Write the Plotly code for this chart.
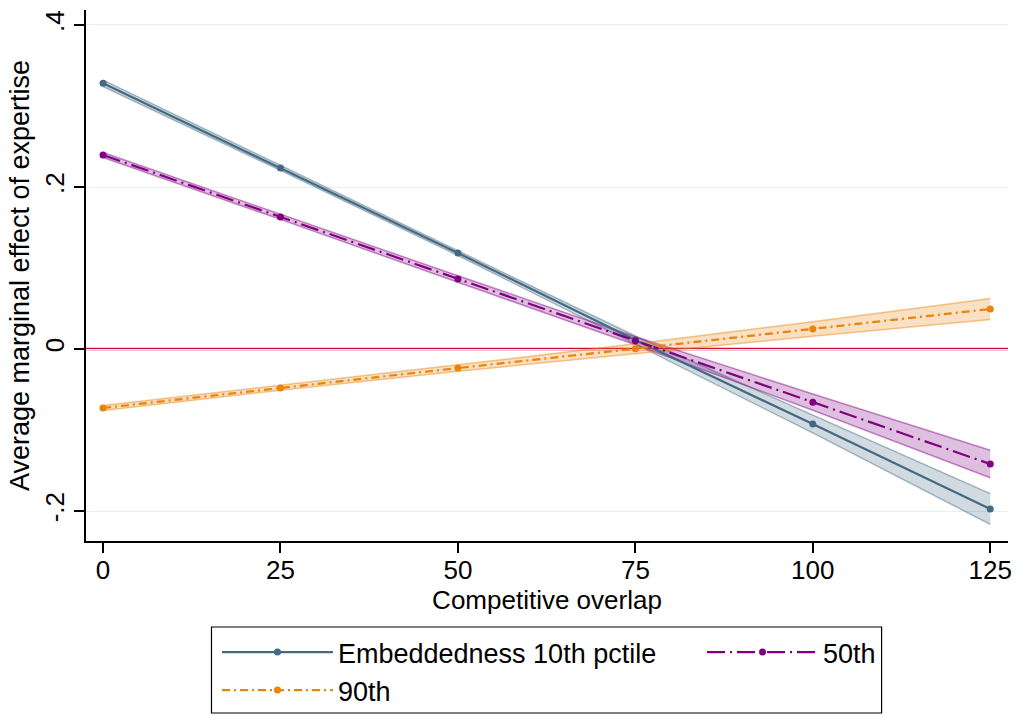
import plotly.graph_objects as go

overlap = [0, 25, 50, 75, 100, 125]

p10_mean = [0.328, 0.2235, 0.1185, 0.011, -0.0926, -0.1975]
p10_half = [0.004, 0.003, 0.003, 0.005, 0.011, 0.019]

p50_mean = [0.2395, 0.163, 0.0864, 0.0102, -0.0656, -0.142]
p50_half = [0.003, 0.003, 0.004, 0.005, 0.010, 0.017]

p90_mean = [-0.0728, -0.048, -0.0235, 0.0004, 0.0247, 0.0494]
p90_half = [0.003, 0.003, 0.004, 0.006, 0.009, 0.013]

names = ["Embeddedness 10th pctile", "50th", "90th"]
means = [p10_mean, p50_mean, p90_mean]
halves = [p10_half, p50_half, p90_half]
legend_ids = ["legend", "legend2", "legend3"]
colors = ["#436a82", "#800080", "#e8830c"]
fills = ["rgba(67,106,130,0.25)", "rgba(128,0,128,0.25)", "rgba(232,131,12,0.25)"]
edges = ["rgba(67,106,130,0.45)", "rgba(128,0,128,0.45)", "rgba(232,131,12,0.45)"]
dashes = ["solid", "18px,5px,2px,5px", "8px,4px,2px,4px"]

yticks = [-0.2, 0, 0.2, 0.4]
yticklabels = ["-.2", "0", ".2", ".4"]
xticks = [0, 25, 50, 75, 100, 125]

FONT = "Liberation Sans, Arial, sans-serif"

fig = go.Figure()

for m, h, f, e in zip(means, halves, fills, edges):
    up = [a + b for a, b in zip(m, h)]
    lo = [a - b for a, b in zip(m, h)]
    fig.add_trace(go.Scatter(x=overlap, y=up, mode="lines",
                             line=dict(color=e, width=1.5),
                             showlegend=False, hoverinfo="skip"))
    fig.add_trace(go.Scatter(x=overlap, y=lo, mode="lines", fill="tonexty",
                             fillcolor=f, line=dict(color=e, width=1.5),
                             showlegend=False, hoverinfo="skip"))

for n, m, c, d, lg in zip(names, means, colors, dashes, legend_ids):
    fig.add_trace(go.Scatter(x=overlap, y=m, mode="lines+markers", name=n,
                             line=dict(color=c, width=2.2, dash=d),
                             marker=dict(color=c, size=7), legend=lg))

fig.add_shape(type="line", xref="paper", x0=0, x1=1, yref="y", y0=0, y1=0,
              line=dict(color="#c4103a", width=2.6), layer="between")

# legend frame
fig.add_shape(type="rect", xref="paper", yref="paper",
              x0=0.1361, x1=0.8629, y0=-0.162, y1=-0.3239,
              line=dict(color="black", width=1.2), fillcolor="rgba(0,0,0,0)")

legend_common = dict(orientation="h", xanchor="left", yanchor="top",
                     xref="container", yref="container",
                     bgcolor="rgba(0,0,0,0)", borderwidth=0,
                     font=dict(size=27, family=FONT), itemwidth=111)

fig.update_layout(
    width=1022, height=715,
    margin=dict(l=86, r=10, t=10, b=174),
    plot_bgcolor="white", paper_bgcolor="white",
    font=dict(family=FONT, size=20, color="black"),
    legend=dict(x=0.2123, y=0.1217, **legend_common),
    legend2=dict(x=0.6869, y=0.1217, **legend_common),
    legend3=dict(x=0.2123, y=0.0685, **legend_common),
)
fig.update_xaxes(range=[-2.4, 127.5], tickvals=xticks, showgrid=False, zeroline=False,
                 showline=True, linecolor="black", linewidth=1.5,
                 ticks="outside", ticklen=10, tickcolor="black", tickwidth=1.5,
                 ticklabelstandoff=-5,
                 title=dict(text="Competitive overlap", standoff=0,
                            font=dict(size=26, family=FONT)),
                 tickfont=dict(size=26, family=FONT))
fig.update_yaxes(range=[-0.237, 0.4185], tickvals=yticks, ticktext=yticklabels,
                 tickangle=-90, showgrid=True, gridcolor="#e6eff1", gridwidth=1.2,
                 zeroline=False, showline=True, linecolor="black", linewidth=1.5,
                 ticks="outside", ticklen=10, tickcolor="black", tickwidth=1.5,
                 title=dict(text="Average marginal effect of expertise", standoff=2,
                            font=dict(size=27, family=FONT)),
                 tickfont=dict(size=26, family=FONT))

fig.write_html("out.html")
